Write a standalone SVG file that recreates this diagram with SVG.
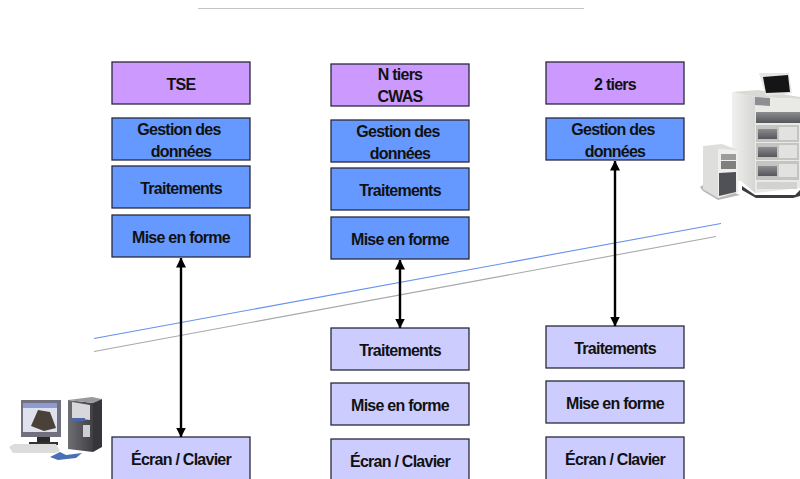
<svg xmlns="http://www.w3.org/2000/svg" width="800" height="479" viewBox="0 0 800 479">
<style>
text{font-family:"Liberation Sans",Arial,sans-serif;font-weight:bold;font-size:16px;letter-spacing:-0.75px;fill:#111;text-anchor:middle}
.box{stroke:#2a2a3a;stroke-width:1.3}
.p{fill:#cc99ff}.b{fill:#6699ff}.l{fill:#ccccff}
.arrow{stroke:#000;stroke-width:2.4;fill:none;marker-start:url(#ah);marker-end:url(#ah)}
</style>
<defs>
<marker id="ah" viewBox="0 0 10 10" refX="9.5" refY="5" markerUnits="userSpaceOnUse" markerWidth="10" markerHeight="10" orient="auto-start-reverse"><path d="M0 0L10 5L0 10z" fill="#000"/></marker>
<linearGradient id="sv" x1="0" x2="1" y1="0" y2="0"><stop offset="0" stop-color="#f0f0ee"/><stop offset="1" stop-color="#d6d6d4"/></linearGradient>
<linearGradient id="dr" x1="0" x2="0" y1="0" y2="1"><stop offset="0" stop-color="#8a8c90"/><stop offset="1" stop-color="#55575b"/></linearGradient>
<linearGradient id="tw" x1="0" x2="1" y1="0" y2="0"><stop offset="0" stop-color="#6e6e72"/><stop offset="1" stop-color="#3f3f44"/></linearGradient>
</defs>
<rect width="800" height="479" fill="#fff"/>
<g id="lines" fill="none">
<line x1="198" y1="8.5" x2="584" y2="8.5" stroke="#c4c4c4" stroke-width="1.2"/>
<line x1="94" y1="338.5" x2="721" y2="223.5" stroke="#6690ee" stroke-width="1.1"/>
<line x1="94" y1="351.5" x2="716" y2="236.5" stroke="#a8a8a8" stroke-width="1.1"/>
</g>
<g id="tse"><rect class="box p" x="112" y="62" width="138" height="42"/><text x="181" y="90">TSE</text></g>
<g id="tse-gestion"><rect class="box b" x="112" y="118" width="138" height="42"/><text x="179" y="135">Gestion des</text><text x="181" y="157">données</text></g>
<g id="tse-traitements"><rect class="box b" x="112" y="166" width="138" height="42"/><text x="181" y="194">Traitements</text></g>
<g id="tse-mise"><rect class="box b" x="112" y="215" width="138" height="42"/><text x="181" y="243">Mise en forme</text></g>
<g id="tse-ecran"><rect class="box l" x="112" y="437" width="138" height="44"/><text x="181" y="465">Écran / Clavier</text></g>
<g id="ntiers"><rect class="box p" x="331" y="64" width="138" height="42"/><text x="400" y="80">N tiers</text><text x="400" y="102">CWAS</text></g>
<g id="nt-gestion"><rect class="box b" x="331" y="120" width="138" height="42"/><text x="398" y="137">Gestion des</text><text x="400" y="159">données</text></g>
<g id="nt-traitements"><rect class="box b" x="331" y="168" width="138" height="42"/><text x="400" y="196">Traitements</text></g>
<g id="nt-mise"><rect class="box b" x="331" y="217" width="138" height="42"/><text x="400" y="245">Mise en forme</text></g>
<g id="nt-traitements2"><rect class="box l" x="331" y="328" width="138" height="42"/><text x="400" y="356">Traitements</text></g>
<g id="nt-mise2"><rect class="box l" x="331" y="383" width="138" height="42"/><text x="400" y="411">Mise en forme</text></g>
<g id="nt-ecran"><rect class="box l" x="331" y="439" width="138" height="44"/><text x="400" y="467">Écran / Clavier</text></g>
<g id="deux"><rect class="box p" x="546" y="62" width="138" height="42"/><text x="615" y="90">2 tiers</text></g>
<g id="d-gestion"><rect class="box b" x="546" y="118" width="138" height="42"/><text x="613" y="135">Gestion des</text><text x="615" y="157">données</text></g>
<g id="d-traitements"><rect class="box l" x="546" y="326" width="138" height="42"/><text x="615" y="354">Traitements</text></g>
<g id="d-mise"><rect class="box l" x="546" y="381" width="138" height="42"/><text x="615" y="409">Mise en forme</text></g>
<g id="d-ecran"><rect class="box l" x="546" y="437" width="138" height="44"/><text x="615" y="465">Écran / Clavier</text></g>
<g id="connectors">
<line class="arrow" x1="181" y1="258" x2="181" y2="437"/>
<line class="arrow" x1="400" y1="260" x2="400" y2="328"/>
<line class="arrow" x1="615" y1="161" x2="615" y2="326"/>
</g>
<g id="server">
<path d="M742 186L755 195H795L800 190V196L793 198H756L742 190z" fill="#3c3c40"/>
<path d="M732 92L758 90L800 97V99L755 97z" fill="#d9d9d6"/>
<path d="M732 92L755 97V193L741 181H732z" fill="url(#sv)"/>
<path d="M755 97L800 99V188L755 193z" fill="#e9e9e6"/>
<path d="M759 73L789 73L792 93L766 96z" fill="#e6e6e2"/>
<path d="M763 77L788 75L790 92L766 93z" fill="#151515"/>
<path d="M755 97L770 98V106L755 105z" fill="#8d8f92"/>
<path d="M756 112H800V123H756z" fill="url(#dr)"/>
<g fill="#c4c4c3"><rect x="756" y="125" width="43" height="17"/><rect x="756" y="143" width="43" height="17"/><rect x="756" y="161" width="43" height="19"/></g>
<g fill="url(#dr)"><rect x="758" y="129" width="19" height="10"/><rect x="758" y="147" width="19" height="10"/><rect x="758" y="166" width="19" height="10"/></g>
<g fill="#e2e2e0"><rect x="779" y="127" width="18" height="13"/><rect x="779" y="145" width="18" height="13"/><rect x="779" y="164" width="18" height="13"/></g>
<rect x="757" y="182" width="40" height="7" fill="#d2d2d0"/>
<path d="M703 146L722 144L738 150V192L718 198L703 189z" fill="#dededc"/>
<path d="M718 149L738 150V192L718 198z" fill="#efefed"/>
<rect x="721" y="154" width="15" height="6" fill="#9c9c9a"/>
<rect x="721" y="161" width="15" height="8" fill="#7f7f7e"/>
<path d="M719 173L736 172V192L719 196z" fill="#4f5156"/>
<path d="M700 187L703 185V189L718 198L735 193L740 195L718 200L703 191z" fill="#b8b8b6"/>
</g>
<g id="client">
<rect x="37" y="437" width="13" height="5" fill="#2a2a2a"/>
<rect x="29" y="442" width="29" height="3" fill="#333"/>
<rect x="21" y="400" width="40" height="37" fill="#70707e"/>
<rect x="23" y="403" width="34" height="29" fill="#dfe2ee"/>
<path d="M23 403H57V408H23z" fill="#8f9bd0"/>
<path d="M31 426L38 410L50 412L56 428L44 431z" fill="#4a4238"/>
<path d="M9 447L14 444H56L60 451L56 453H13z" fill="#dcdcdc"/>
<path d="M68 400L93 403V452L68 449z" fill="url(#tw)"/>
<path d="M68 400L92 397L102 399L93 403z" fill="#9a9a9e"/>
<path d="M93 403L102 399V447L93 452z" fill="#36363a"/>
<path d="M72 402L90 405V420L72 418z" fill="#d8d8da"/>
<rect x="72" y="418" width="13" height="3" fill="#4a66a8"/>
<rect x="83" y="425" width="7" height="12" fill="#cdd0d2"/>
<path d="M50 457L60 452L66 455L82 453L76 458L58 460z" fill="#4a6fb5"/>
</g>
</svg>
